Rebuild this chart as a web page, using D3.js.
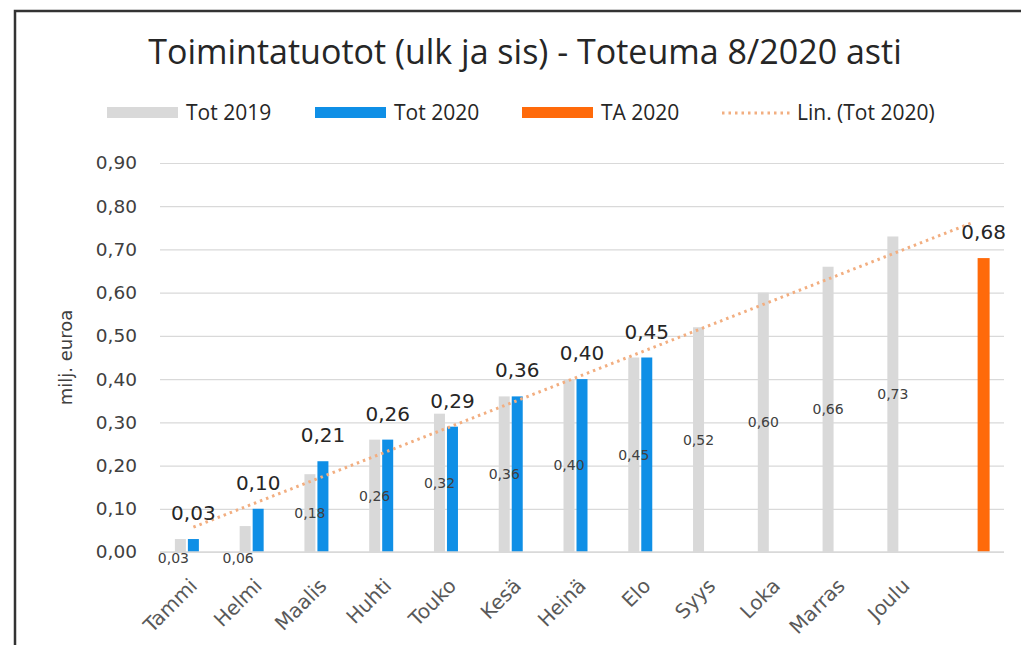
<!DOCTYPE html>
<html>
<head>
<meta charset="utf-8">
<script src="https://cdn.jsdelivr.net/npm/d3@7"></script>
<style>
  body { margin: 0; background: #fff; }
  svg { display: block; }
</style>
</head>
<body>
<svg id="chart"></svg>
<script>
// data
var categories = ["Tammi", "Helmi", "Maalis", "Huhti", "Touko", "Kesä", "Heinä", "Elo", "Syys", "Loka", "Marras", "Joulu", ""];
var tot2019 = [0.03, 0.06, 0.18, 0.26, 0.32, 0.36, 0.40, 0.45, 0.52, 0.60, 0.66, 0.73, null];
var tot2020 = [0.03, 0.10, 0.21, 0.26, 0.29, 0.36, 0.40, 0.45, null, null, null, null, null];
var ta2020 = [null, null, null, null, null, null, null, null, null, null, null, null, 0.68];
var yTicks = [0, 0.1, 0.2, 0.3, 0.4, 0.5, 0.6, 0.7, 0.8, 0.9];
var seriesNames = ["Tot 2019", "Tot 2020", "TA 2020"];
var trendName = "Lin. (Tot 2020)";
var titleText = "Toimintatuotot (ulk ja sis) - Toteuma 8/2020 asti";
var yTitle = "milj. euroa";

// basic settings
var svgWidth = 1021, svgHeight = 645;
var plotLeft = 160, plotRight = 1004, plotTop = 163, plotBottom = 552;
var colors = { "Tot 2019": "#d9d9d9", "Tot 2020": "#0f8fe6", "TA 2020": "#ff6a0a" };
var trendColor = "#f2ae80";
var textColor = "#404040";
var fmt = function(d) { return d3.format(".2f")(d).replace(".", ","); };

var svg = d3.select('#chart')
  .attr('width', svgWidth)
  .attr('height', svgHeight);

svg.append('rect')
  .attr('width', svgWidth).attr('height', svgHeight)
  .attr('fill', '#fff');

// outer frame (only top and left visible)
svg.append('path')
  .attr('d', "M15," + svgHeight + "V11H" + svgWidth)
  .attr('fill', 'none')
  .attr('stroke', '#333')
  .attr('stroke-width', 2.5);

var x = d3.scaleBand()
  .domain(d3.range(categories.length))
  .range([plotLeft + 1, plotRight - 1]);

var xs = d3.scaleBand()
  .domain(seriesNames)
  .range([-19.5, 19.5]);

var y = d3.scaleLinear()
  .domain([0, 0.9])
  .range([plotBottom, plotTop]);

function cx(i) { return x(i) + x.bandwidth() / 2; }

// gridlines
var grid = svg.append('g')
  .attr('transform', "translate(" + plotLeft + ",0)")
  .call(d3.axisLeft(y).tickValues(yTicks).tickSize(-(plotRight - plotLeft)).tickFormat(""));
grid.select('.domain').remove();
grid.selectAll('line').attr('stroke', '#d9d9d9').attr('stroke-width', 1.2);

// y axis labels
var yAxis = svg.append('g')
  .attr('transform', "translate(137,0)")
  .call(d3.axisLeft(y).tickValues(yTicks).tickSize(0).tickPadding(0).tickFormat(fmt));
yAxis.select('.domain').remove();
yAxis.selectAll('text')
  .attr('font-family', 'DejaVu Sans')
  .attr('font-size', 18.5)
  .attr('fill', textColor);

svg.append('text')
  .attr('transform', "translate(72," + ((plotTop + plotBottom) / 2) + ") rotate(-90)")
  .attr('text-anchor', 'middle')
  .attr('font-family', 'DejaVu Sans')
  .attr('font-size', 18)
  .attr('fill', textColor)
  .text(yTitle);

// x axis labels
var xAxis = svg.append('g')
  .attr('transform', "translate(0," + plotBottom + ")")
  .call(d3.axisBottom(x).tickSize(0).tickFormat(function(i) { return categories[i]; }));
xAxis.select('.domain').remove();
xAxis.selectAll('text')
  .attr('font-family', 'DejaVu Sans')
  .attr('font-size', 20)
  .attr('fill', '#595959')
  .attr('text-anchor', 'end')
  .attr('dy', '0.35em')
  .attr('transform', "translate(-2,28) rotate(-45)");

// bars
var seriesData = [tot2019, tot2020, ta2020];
seriesNames.forEach(function(name, s) {
  var vals = seriesData[s].map(function(v, i) { return { i: i, v: v }; })
    .filter(function(d) { return d.v != null; });
  var bw = name === "TA 2020" ? 12 : 11;
  svg.append('g').selectAll('rect')
    .data(vals)
    .enter()
    .append('rect')
    .attr('x', function(d) { return cx(d.i) + xs(name) + xs.bandwidth() / 2 - bw / 2; })
    .attr('y', function(d) { return y(d.v); })
    .attr('width', bw)
    .attr('height', function(d) { return plotBottom - y(d.v); })
    .attr('fill', colors[name]);
});

// zero line
svg.append('line')
  .attr('x1', plotLeft).attr('x2', plotRight)
  .attr('y1', plotBottom).attr('y2', plotBottom)
  .attr('stroke', '#d9d9d9').attr('stroke-width', 1.5);

// linear trendline of Tot 2020, extended to the last category
var known = tot2020.map(function(v, i) { return [i, v]; }).filter(function(d) { return d[1] != null; });
var mx = d3.mean(known, function(d) { return d[0]; });
var my = d3.mean(known, function(d) { return d[1]; });
var slope = d3.sum(known, function(d) { return (d[0] - mx) * (d[1] - my); }) /
  d3.sum(known, function(d) { return (d[0] - mx) * (d[0] - mx); });
var icept = my - slope * mx;
var trendPts = [0, categories.length - 1].map(function(i) { return [cx(i), y(icept + slope * i)]; });
svg.append('path')
  .attr('d', d3.line()(trendPts))
  .attr('fill', 'none')
  .attr('stroke', trendColor)
  .attr('stroke-width', 3)
  .attr('stroke-dasharray', '2.5,4');

// data labels: Tot 2019 centered inside bars (below axis when too short)
svg.append('g').selectAll('text')
  .data(tot2019.map(function(v, i) { return { i: i, v: v }; }).filter(function(d) { return d.v != null; }))
  .enter()
  .append('text')
  .attr('x', function(d) { return cx(d.i) + xs("Tot 2019") + xs.bandwidth() / 2 - (d.v < 0.1 ? 7 : 0); })
  .attr('y', function(d) {
    var h = plotBottom - y(d.v);
    return h < 30 ? plotBottom + 6 : y(d.v) + h / 2;
  })
  .attr('dy', '0.35em')
  .attr('text-anchor', 'middle')
  .attr('font-family', 'DejaVu Sans')
  .attr('font-size', 14)
  .attr('fill', '#404040')
  .text(function(d) { return fmt(d.v); });

// data labels: Tot 2020 and TA 2020 above bars
[["Tot 2020", tot2020], ["TA 2020", ta2020]].forEach(function(p) {
  svg.append('g').selectAll('text')
    .data(p[1].map(function(v, i) { return { i: i, v: v }; }).filter(function(d) { return d.v != null; }))
    .enter()
    .append('text')
    .attr('x', function(d) { return cx(d.i) + xs(p[0]) + xs.bandwidth() / 2; })
    .attr('y', function(d) { return y(d.v) - 19; })
    .attr('text-anchor', 'middle')
    .attr('font-family', 'DejaVu Sans')
    .attr('font-size', 20)
    .attr('fill', '#262626')
    .text(function(d) { return fmt(d.v); });
});

// title
svg.append('text')
  .attr('x', 525).attr('y', 64)
  .attr('text-anchor', 'middle')
  .attr('font-family', 'Open Sans')
  .attr('font-size', 34)
  .attr('fill', '#262626')
  .text(titleText);

// legend
var legendItems = [
  { name: seriesNames[0], x: 107, type: 'rect' },
  { name: seriesNames[1], x: 315, type: 'rect' },
  { name: seriesNames[2], x: 522, type: 'rect' },
  { name: trendName, x: 722, type: 'line' }
];
var legend = svg.append('g');
legendItems.forEach(function(it) {
  if (it.type === 'rect') {
    legend.append('rect')
      .attr('x', it.x).attr('y', 107)
      .attr('width', 71).attr('height', 11)
      .attr('fill', colors[it.name]);
  } else {
    legend.append('line')
      .attr('x1', it.x).attr('x2', it.x + 68)
      .attr('y1', 113).attr('y2', 113)
      .attr('stroke', trendColor)
      .attr('stroke-width', 3)
      .attr('stroke-dasharray', '2.5,4');
  }
  legend.append('text')
    .attr('x', it.x + (it.type === 'rect' ? 79 : 75))
    .attr('y', 113)
    .attr('dy', '0.35em')
    .attr('font-family', 'Open Sans')
    .attr('font-size', 21)
    .attr('fill', '#262626')
    .text(it.name);
});
</script>
</body>
</html>
